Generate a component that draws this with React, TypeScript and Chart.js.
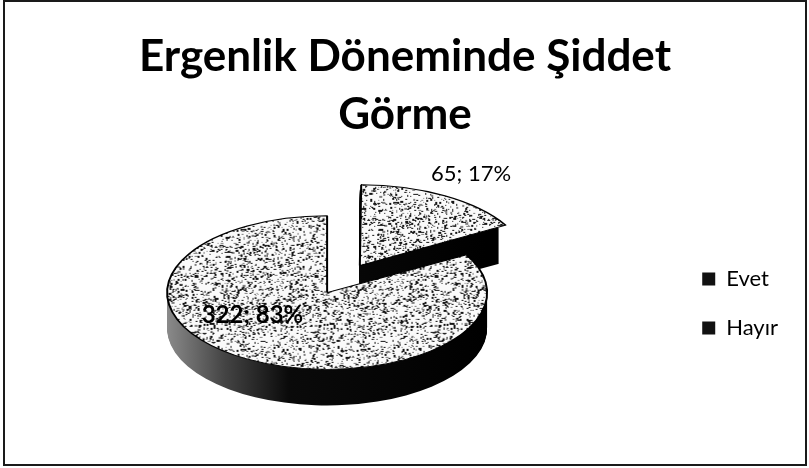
import React, { useEffect, useRef } from 'react';
import { Chart, registerables } from 'chart.js';

Chart.register(...registerables);

// ---- data ----
const categories = ['Evet', 'Hayır'];
const counts = [65, 322];
const percents = [17, 83];
const titleLines = ['Ergenlik Döneminde Şiddet', 'Görme'];

// ---- style ----
const FONT = 'Lato, "Open Sans", "DejaVu Sans", sans-serif';
const K = 0.48; // vertical squash of the 3D projection
const DEPTH = 36; // thickness of the pie in px
const SHIFT_X = -21.5;
const SHIFT_Y = -11;
// label anchors: angle in degrees (canvas angle, clockwise from +x), radius fraction
const labelAnchors = [
  { angle: null as number | null, rf: 1.38, weight: 'normal', size: 22 },
  { angle: 148, rf: 0.55, weight: 'bold', size: 24 },
];

function makeSpeckle(): CanvasPattern | string {
  const N = 120;
  const c = document.createElement('canvas');
  c.width = N;
  c.height = N;
  const g = c.getContext('2d');
  if (!g) return '#cccccc';
  g.fillStyle = '#fafafa';
  g.fillRect(0, 0, N, N);
  let s = 98765;
  const rnd = () => {
    s = (s * 1103515245 + 12345) & 0x7fffffff;
    return s / 0x7fffffff;
  };
  for (let i = 0; i < 1800; i++) {
    const x = Math.floor(rnd() * N);
    const y = Math.floor(rnd() * N);
    const w = 1 + Math.floor(rnd() * 2.2);
    const h = 1 + Math.floor(rnd() * 1.6);
    g.fillStyle = rnd() < 0.7 ? '#151515' : '#808080';
    g.fillRect(x, y, w, h);
  }
  const p = g.createPattern(c, 'repeat');
  if (!p) return '#cccccc';
  try {
    p.setTransform(new DOMMatrix().scale(1, 1 / K));
  } catch (e) {
    /* ignore */
  }
  return p;
}

function project(ctx: CanvasRenderingContext2D, cx: number, cy: number) {
  ctx.translate(cx + SHIFT_X, cy + SHIFT_Y);
  ctx.scale(1, K);
  ctx.translate(-cx, -cy);
}

const pie3d = {
  id: 'pie3d',
  beforeDatasetsDraw(chart: any) {
    const ctx: CanvasRenderingContext2D = chart.ctx;
    const arcs = chart.getDatasetMeta(0).data;
    if (!arcs.length) return;
    const cx = arcs[0].x;
    const cy = arcs[0].y;
    arcs.forEach((arc: any) => {
      const { startAngle, endAngle, outerRadius } = arc;
      const off = (arc.options.offset || 0) / 4;
      const mid = (startAngle + endAngle) / 2;
      const ox = Math.cos(mid) * off;
      const oy = Math.sin(mid) * off;
      for (let d = DEPTH; d >= 1; d--) {
        ctx.save();
        ctx.translate(0, d);
        project(ctx, cx, cy);
        const grad = ctx.createLinearGradient(cx - outerRadius, 0, cx + outerRadius, 0);
        grad.addColorStop(0, '#8a8a8a');
        grad.addColorStop(0.18, '#444');
        grad.addColorStop(0.38, '#0a0a0a');
        grad.addColorStop(1, '#000000');
        ctx.fillStyle = grad;
        ctx.beginPath();
        ctx.moveTo(cx + ox, cy + oy);
        ctx.arc(cx + ox, cy + oy, outerRadius, startAngle, endAngle);
        ctx.closePath();
        ctx.fill();
        ctx.restore();
      }
    });
    ctx.save();
    project(ctx, cx, cy);
  },
  afterDatasetsDraw(chart: any) {
    const ctx: CanvasRenderingContext2D = chart.ctx;
    ctx.restore();
    const arcs = chart.getDatasetMeta(0).data;
    if (!arcs.length) return;
    const cx = arcs[0].x;
    const cy = arcs[0].y;
    arcs.forEach((arc: any, i: number) => {
      const { startAngle, endAngle, outerRadius } = arc;
      const off = (arc.options.offset || 0) / 4;
      const mid = (startAngle + endAngle) / 2;
      const a = labelAnchors[i].angle === null ? mid : (labelAnchors[i].angle as number) * Math.PI / 180;
      const px = cx + Math.cos(mid) * off + Math.cos(a) * outerRadius * labelAnchors[i].rf;
      const py = cy + Math.sin(mid) * off + Math.sin(a) * outerRadius * labelAnchors[i].rf;
      const sx = px + SHIFT_X;
      const sy = cy + SHIFT_Y + (py - cy) * K;
      ctx.save();
      ctx.font = `${labelAnchors[i].weight} ${labelAnchors[i].size}px ${FONT}`;
      ctx.fillStyle = '#000';
      ctx.textAlign = 'center';
      ctx.textBaseline = 'middle';
      ctx.fillText(`${counts[i]}; ${percents[i]}%`, sx, sy);
      ctx.restore();
    });
  },
};

export default function App() {
  const ref = useRef<HTMLCanvasElement | null>(null);
  useEffect(() => {
    if (!ref.current) return;
    const speckle = makeSpeckle();
    const chart = new Chart(ref.current, {
      type: 'pie',
      data: {
        labels: categories,
        datasets: [
          {
            data: counts,
            backgroundColor: [speckle, speckle] as any,
            borderColor: '#000',
            borderWidth: 2,
            offset: [260, 0],
          },
        ],
      },
      options: {
        animation: false,
        responsive: true,
        maintainAspectRatio: false,
        radius: 160,
        layout: { padding: { left: 17, right: 17, top: 0, bottom: 1 } },
        plugins: {
          title: {
            display: true,
            text: titleLines,
            color: '#000',
            font: { family: FONT, size: 44, weight: 'bold', lineHeight: 1.32 },
            padding: { top: 26, bottom: 0 },
          },
          legend: {
            position: 'right',
            fullSize: false,
            labels: {
              boxWidth: 13,
              boxHeight: 13,
              padding: 27,
              color: '#000',
              font: { family: FONT, size: 22 },
              generateLabels: (c: any) =>
                Chart.overrides.pie.plugins.legend.labels.generateLabels(c).map((l: any) => ({
                  ...l,
                  fillStyle: '#111',
                  strokeStyle: '#111',
                  lineWidth: 0,
                })),
            },
          },
          tooltip: { enabled: false },
        },
      } as any,
      plugins: [pie3d],
    });
    return () => chart.destroy();
  }, []);
  return (
    <div
      style={{
        position: 'absolute',
        left: 3,
        top: 0,
        width: 804,
        height: 466,
        border: '2px solid #1a1a1a',
        boxSizing: 'border-box',
        background: '#fff',
      }}
    >
      <div style={{ position: 'relative', width: 800, height: 462 }}>
        <canvas ref={ref} />
      </div>
    </div>
  );
}
